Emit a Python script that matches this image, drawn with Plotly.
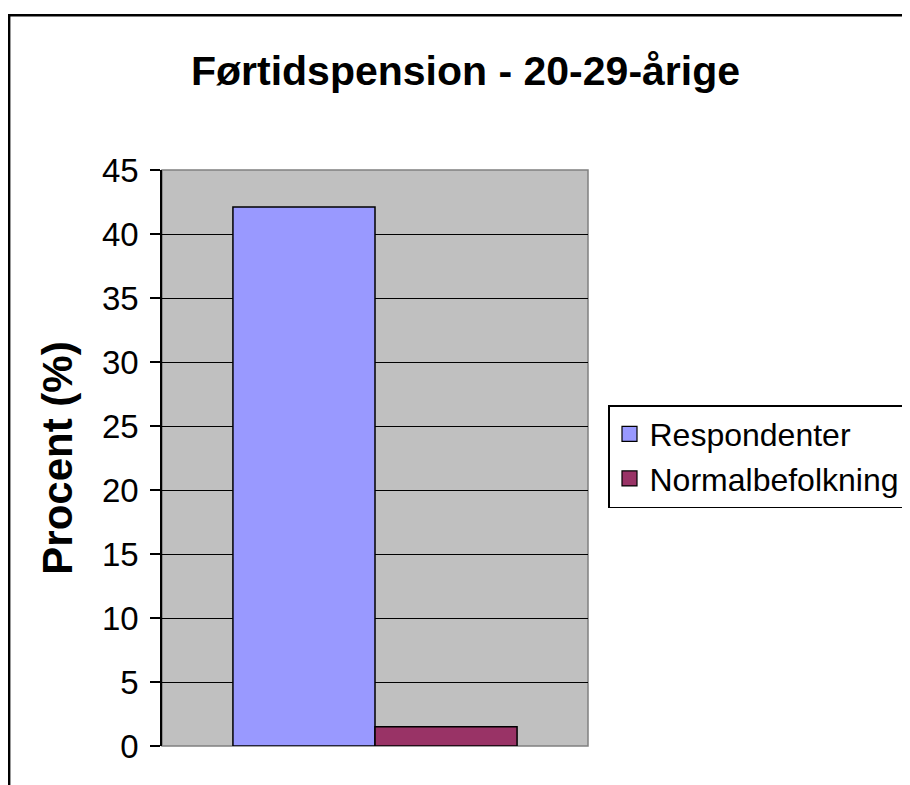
import plotly.graph_objects as go

series_names = ["Respondenter", "Normalbefolkning"]
values = [42.1, 1.5]
colors = ["#9999FF", "#993366"]
category = [""]
y_ticks = [0, 5, 10, 15, 20, 25, 30, 35, 40, 45]

fig = go.Figure()
for name, v, c in zip(series_names, values, colors):
    fig.add_trace(go.Bar(x=category, y=[v], name=name, showlegend=False,
                         marker=dict(color=c, line=dict(color="black", width=1.5))))
# legend entries with larger square swatches
for name, c in zip(series_names, colors):
    fig.add_trace(go.Scatter(x=[None], y=[None], mode="markers", name=name,
                             marker=dict(symbol="square", size=15, color=c,
                                         line=dict(color="black", width=1.2))))

# page body has an 8px margin; work in reference pixels and shift by OFF
OFF = 8
W, H = 910 - OFF, 785 - OFF
L = 162 - OFF
T = 170 - OFF
R = W - (588 - OFF)
B = H - (746 - OFF)
pw, ph = W - L - R, H - T - B

def px(x):
    return (x - OFF - L) / pw

def py(y):
    return (H - B - (y - OFF)) / ph

fig.update_layout(
    width=W, height=H,
    margin=dict(l=L, r=R, t=T, b=B, autoexpand=False),
    paper_bgcolor="white",
    plot_bgcolor="#C0C0C0",
    barmode="group",
    bargap=0.333, bargroupgap=0,
    font=dict(family="Liberation Sans, Arial, sans-serif", color="black"),
    title=dict(text="<b>Førtidspension - 20-29-årige</b>", x=(465.5 - OFF) / W,
               xanchor="center", xref="container",
               y=1 - (71 - OFF) / H, yanchor="middle", yref="container",
               font=dict(size=41, color="black")),
    legend=dict(x=px(608), y=py(405), xanchor="left", yanchor="top",
                bordercolor="black", borderwidth=1.5, bgcolor="white",
                font=dict(size=32, color="black"), itemsizing="trace",
                itemwidth=30),
    showlegend=True,
    xaxis=dict(showticklabels=False, ticks="", showgrid=False, zeroline=False,
               showline=False),
    yaxis=dict(range=[0, 45], tickvals=y_ticks, ticks="outside", ticklen=10,
               tickcolor="black", tickwidth=1.5, tickfont=dict(size=33, color="black"),
               ticklabelstandoff=5,
               showgrid=True, gridcolor="black", gridwidth=1, zeroline=False,
               showline=True, linecolor="black", linewidth=1.5,
               title=dict(text="<b>Procent (%)</b>", font=dict(size=42, color="black"),
                          standoff=16)),
)

# plot area border (gray)
fig.add_shape(type="rect", xref="paper", yref="paper", x0=0, x1=1, y0=0, y1=1,
              line=dict(color="#808080", width=1.5), layer="below")
# outer chart frame
fig.add_shape(type="rect", xref="paper", yref="paper",
              x0=px(9.2), x1=px(940), y0=py(800), y1=py(15.2),
              line=dict(color="black", width=2.4))

fig.write_html("out.html")
